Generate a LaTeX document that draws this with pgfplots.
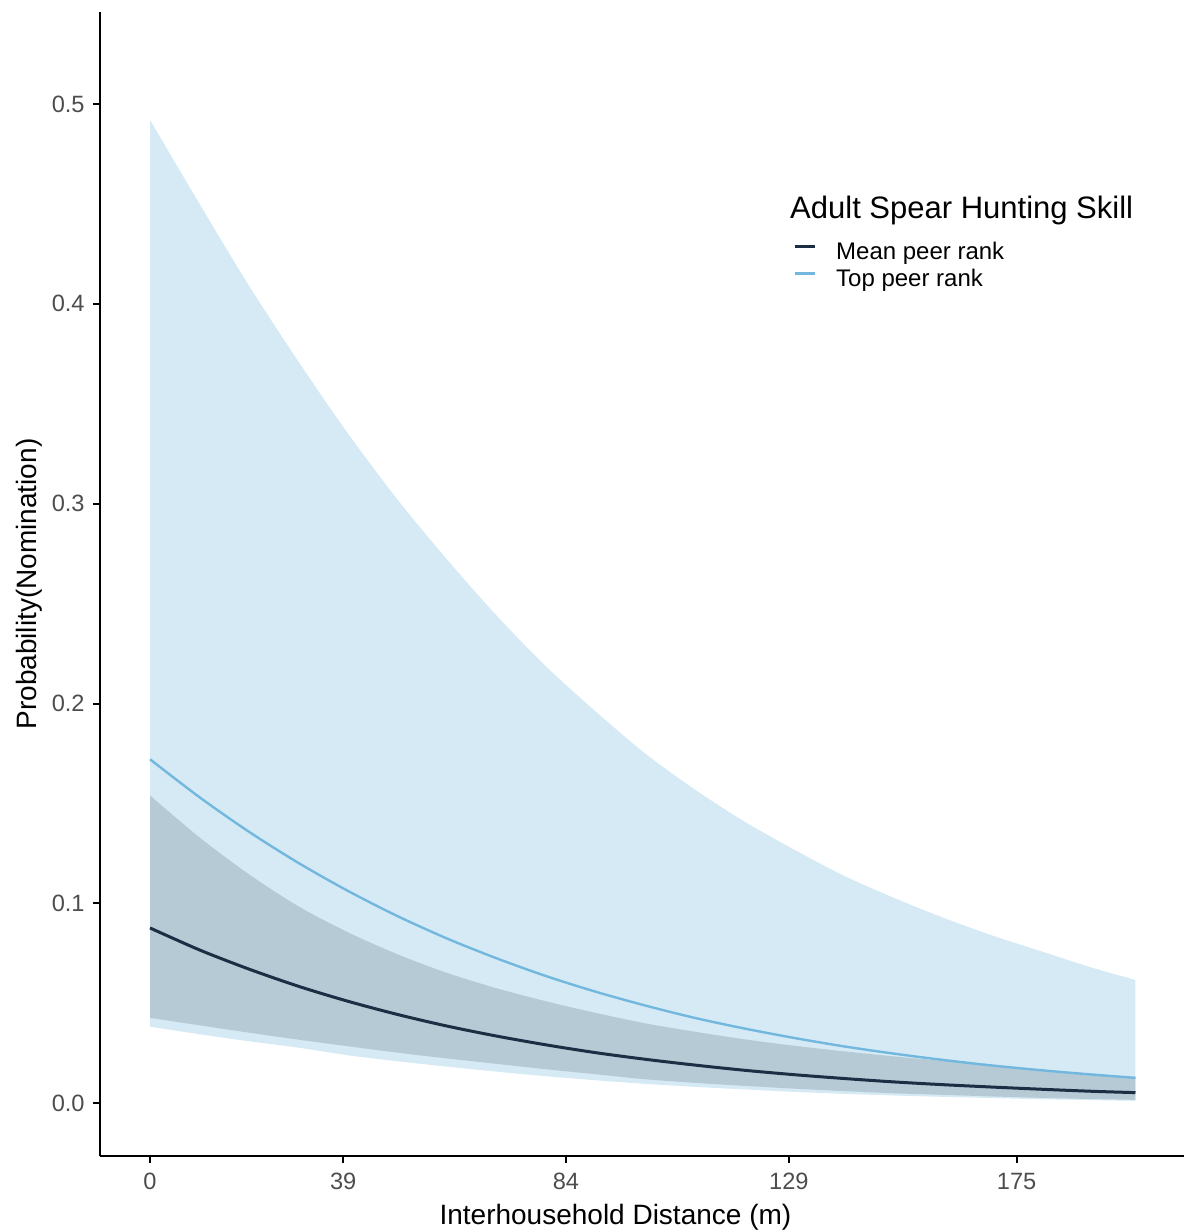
\documentclass[border=0pt]{standalone}
\usepackage{pgfplots}
\pgfplotsset{compat=1.18}
\usepackage{pgfplotstable}
\usepgfplotslibrary{fillbetween}
\usepackage{fontspec}
\setmainfont{Liberation Sans}
\definecolor{lightband}{HTML}{D6EAF5}
\definecolor{darkband}{HTML}{B5CAD5}
\definecolor{meanline}{HTML}{1C2E44}
\definecolor{topline}{HTML}{72B8DE}
\definecolor{ticklab}{HTML}{4D4D4D}

\pgfplotstableread{
x   mean   top    lu     ll     du     dl
0   0.0877 0.1721 0.492  0.0383 0.154  0.0427
10  0.0767 0.1531 0.450  0.0345 0.133  0.0390
20  0.0671 0.1358 0.409  0.0310 0.1145 0.0353
30  0.0585 0.1202 0.371  0.0278 0.0985 0.0318
40  0.0510 0.1062 0.335  0.0240 0.0855 0.0285
50  0.0444 0.0936 0.302  0.0210 0.0745 0.0253
60  0.0386 0.0824 0.272  0.0183 0.0652 0.0224
70  0.0336 0.0725 0.244  0.0158 0.0575 0.0197
80  0.0292 0.0636 0.2185 0.0135 0.0510 0.0170
90  0.0253 0.0558 0.196  0.0115 0.0452 0.0145
100 0.0220 0.0489 0.175  0.0097 0.0400 0.0120
110 0.0191 0.0427 0.157  0.0082 0.0358 0.0102
120 0.0165 0.0374 0.141  0.0069 0.0320 0.0087
130 0.0143 0.0327 0.127  0.0057 0.0288 0.0073
140 0.0124 0.0285 0.114  0.0047 0.0260 0.0061
150 0.0107 0.0249 0.103  0.0039 0.0235 0.0050
160 0.0093 0.0217 0.093  0.0032 0.0212 0.0042
170 0.0081 0.0189 0.084  0.0026 0.0190 0.0034
180 0.0070 0.0165 0.076  0.0020 0.0168 0.0027
190 0.0060 0.0144 0.068  0.0016 0.0148 0.0021
199 0.0053 0.0127 0.0617 0.0012 0.0130 0.0017
}\data

\begin{document}
\begin{tikzpicture}
\begin{axis}[
  scale only axis, width=542pt, height=572pt,
  xmin=-10.1, xmax=208.8, ymin=-0.0264, ymax=0.546,
  axis x line*=bottom, axis y line*=left,
  axis line style={line width=1.3pt, -},
  xtick={0,39,84,129,175}, xticklabels={0,39,84,129,175},
  ytick={0,0.1,0.2,0.3,0.4,0.5}, yticklabels={0.0,0.1,0.2,0.3,0.4,0.5},
  tick align=outside, major tick length=3.5pt,
  tick style={black, line width=1pt},
  tick label style={font=\fontsize{11.8}{14}\selectfont, text=ticklab},
  yticklabel style={anchor=east, inner sep=0pt, xshift=-4pt},
  xticklabel style={anchor=north, inner sep=0pt, yshift=-5pt},
  every axis x label/.style={at={(axis description cs:0.4755,0)}, anchor=base, yshift=-34pt, font=\fontsize{14}{16}\selectfont},
  every axis y label/.style={at={(axis description cs:-0.059,0.5)}, rotate=90, anchor=base, font=\fontsize{14}{16}\selectfont},
  xlabel={Interhousehold Distance (m)},
  ylabel={Probability(Nomination)},
  legend style={at={(axis cs:129.8,0.4324)}, anchor=north west, draw=none, fill=none,
    font=\fontsize{12}{14}\selectfont, inner sep=0pt, row sep=0pt,
    nodes={inner sep=1pt, text height=9pt, text depth=2.5pt},
    /tikz/every odd column/.append style={column sep=9pt}},
  legend cell align=left,
  legend image code/.code={\draw[#1, line width=1.5pt] (0pt,3pt) -- (10pt,3pt);},
]
\addplot[name path=lu, draw=none, forget plot, smooth] table[x=x,y=lu]{\data};
\addplot[name path=ll, draw=none, forget plot, smooth] table[x=x,y=ll]{\data};
\addplot[fill=lightband, draw=none, forget plot] fill between[of=lu and ll];
\addplot[name path=du, draw=none, forget plot, smooth] table[x=x,y=du]{\data};
\addplot[name path=dl, draw=none, forget plot, smooth] table[x=x,y=dl]{\data};
\addplot[fill=darkband, draw=none, forget plot] fill between[of=du and dl];
\addplot[meanline, line width=1.5pt, smooth] table[x=x,y=mean]{\data};
\addlegendentry{Mean peer rank}
\addplot[topline, line width=1.2pt, smooth] table[x=x,y=top]{\data};
\addlegendentry{Top peer rank}
\node[anchor=base west, inner sep=0pt, font=\fontsize{15.5}{18}\selectfont] at (axis cs:129.2,0.4429) {Adult Spear Hunting Skill};
\end{axis}
\pgfresetboundingbox
\path (-50pt,-38pt) rectangle (542pt,578pt);
\end{tikzpicture}
\end{document}
